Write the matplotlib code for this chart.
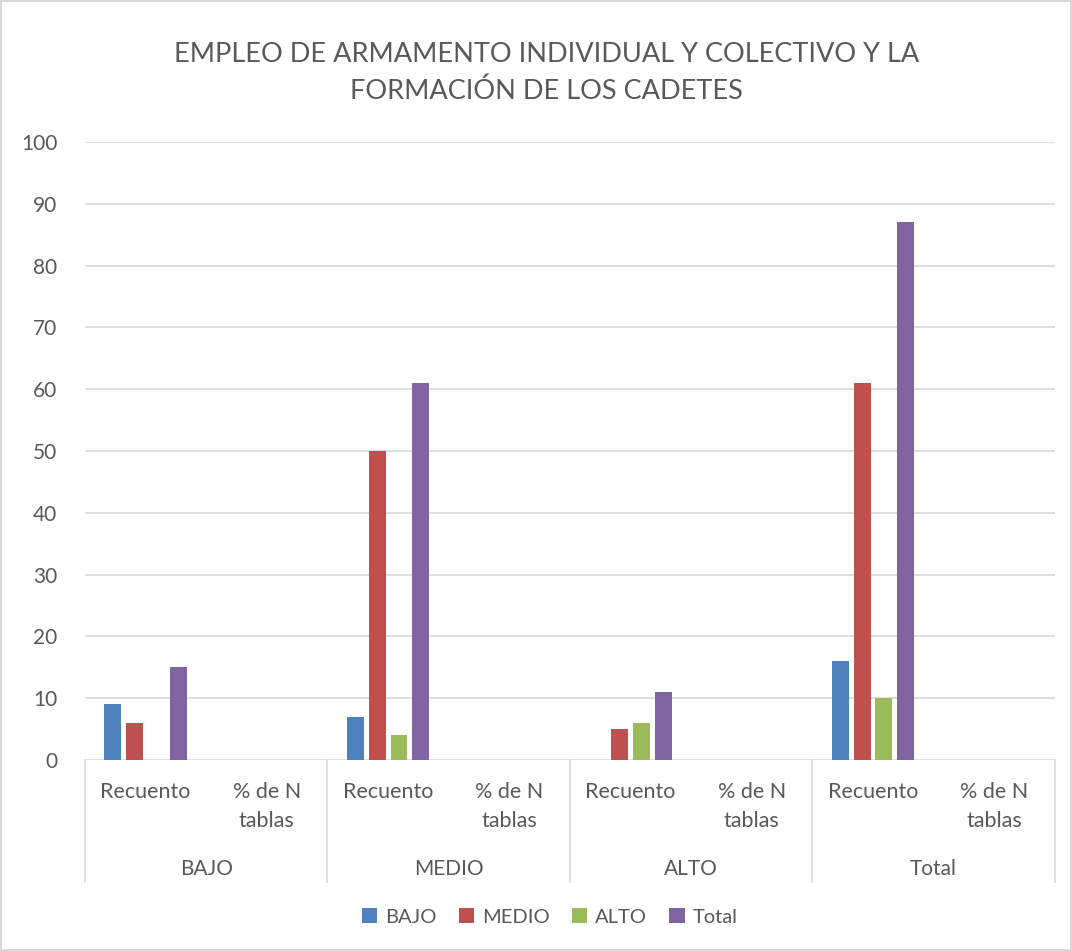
import numpy as np
import matplotlib
matplotlib.use("Agg")
import matplotlib.pyplot as plt
from matplotlib.patches import Patch
from matplotlib.transforms import blended_transform_factory

plt.rcParams['font.family'] = ['Lato', 'DejaVu Sans']

# data
groups = ['BAJO', 'MEDIO', 'ALTO', 'Total']
subcats = ['Recuento', '% de N\ntablas']
series = ['BAJO', 'MEDIO', 'ALTO', 'Total']
# one value per (group, subcat) slot; % de N tablas shows as empty
bajo = [9, 0, 7, 0, 0, 0, 16, 0]
medio = [6, 0, 50, 0, 5, 0, 61, 0]
alto = [0, 0, 4, 0, 6, 0, 10, 0]
total = [15, 0, 61, 0, 11, 0, 87, 0]
colors = ['#4F81BD', '#C0504D', '#9BBB59', '#8064A2']

txt = '#595959'
grid = '#D9D9D9'

fig = plt.figure(figsize=(10.72, 9.51), dpi=100)
fig.patch.set_edgecolor(grid)
fig.patch.set_linewidth(1.5)
ax = fig.add_axes([0.0793, 0.2008, 0.9047, 0.6499])

x = np.arange(len(bajo))
w = 0.14
offs = [-0.27, -0.09, 0.09, 0.27]
for vals, c, o in zip([bajo, medio, alto, total], colors, offs):
    ax.bar(x + o, vals, width=w, color=c, zorder=3)

ax.set_xlim(-0.5, 7.5)
ax.set_ylim(0, 100)
ax.set_yticks(np.arange(0, 101, 10))
ax.yaxis.grid(True, color=grid, linewidth=1.2)
ax.set_axisbelow(True)
for s in ax.spines.values():
    s.set_visible(False)
ax.tick_params(axis='y', length=0, pad=20, labelsize=15, labelcolor=txt)
ax.set_xticks([])

trans = blended_transform_factory(ax.transData, ax.transAxes)
for i in range(len(bajo)):
    ax.text(i, -0.036, subcats[i % 2], transform=trans, ha='center', va='top',
            fontsize=15.5, color=txt, linespacing=1.55)
for j, g in enumerate(groups):
    ax.text(2 * j + 0.5, -0.176, g, transform=trans, ha='center', va='center',
            fontsize=15, color=txt)
for xb in [-0.5, 1.5, 3.5, 5.5, 7.5]:
    ax.plot([xb, xb], [0, -0.197], transform=trans, color=grid, lw=1.2,
            clip_on=False)

fig.text(0.51, 1 - 73 / 951, 'EMPLEO DE ARMAMENTO INDIVIDUAL Y COLECTIVO Y LA\nFORMACIÓN DE LOS CADETES',
         ha='center', va='center', fontsize=19.5, color=txt, linespacing=1.55)

handles = [Patch(facecolor=c) for c in colors]
fig.legend(handles, series, loc='center', bbox_to_anchor=(0.513, 1 - 917 / 951),
           ncol=4, frameon=False, fontsize=14.5, labelcolor=txt,
           handlelength=0.75, handleheight=0.75, handletextpad=0.4, columnspacing=1.1)

fig.savefig('out.png', dpi=100, edgecolor=fig.get_edgecolor())
